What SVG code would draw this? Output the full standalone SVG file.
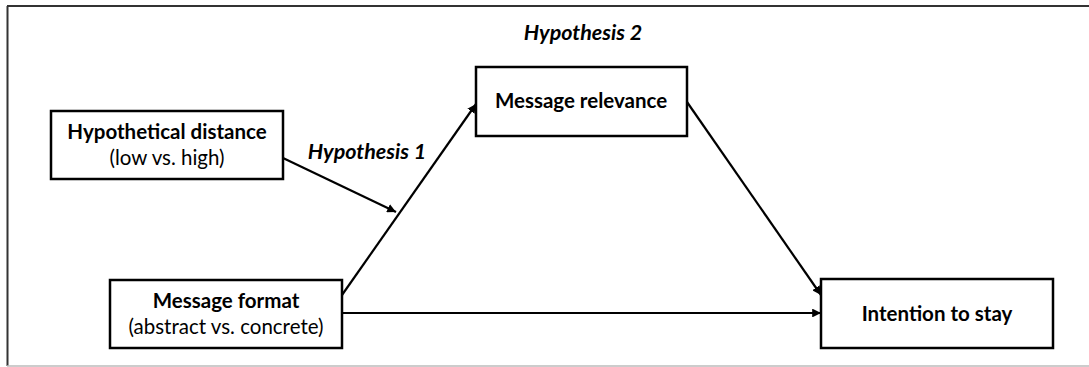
<svg xmlns="http://www.w3.org/2000/svg" width="1089" height="367" viewBox="0 0 1089 367">
<style>
.box{fill:#fff;stroke:#000;stroke-width:2.5}
.t{font-family:Lato,"Open Sans","Liberation Sans",sans-serif;font-size:20.5px;fill:#000;text-anchor:middle}
.b{font-weight:bold}
.i{font-weight:bold;font-style:italic;font-size:21.5px}
.c{stroke:#000;stroke-width:2.2;fill:none;marker-end:url(#ah)}
</style>
<defs>
<marker id="ah" viewBox="0 0 10 10" refX="10" refY="5" markerWidth="4" markerHeight="4" orient="auto" markerUnits="strokeWidth">
<path d="M0,0 L10,5 L0,10 z" fill="#000"/>
</marker>
</defs>
<rect x="0" y="0" width="1089" height="367" fill="#fff"/>
<g id="frame">
<line x1="7" y1="6" x2="1089" y2="6" stroke="#333" stroke-width="2"/>
<line x1="7.5" y1="6" x2="7.5" y2="366" stroke="#333" stroke-width="2"/>
<line x1="7" y1="366" x2="1089" y2="366" stroke="#bbb" stroke-width="1.5"/>
</g>
<g id="connectors">
<line class="c" x1="283" y1="158" x2="396" y2="212"/>
<line class="c" x1="342" y1="295" x2="476" y2="104"/>
<line class="c" x1="687" y1="102" x2="821" y2="295"/>
<line class="c" x1="342" y1="313" x2="821" y2="313"/>
</g>
<g id="label-h1"><text class="t i" x="367" y="159">Hypothesis 1</text></g>
<g id="label-h2"><text class="t i" x="583" y="40">Hypothesis 2</text></g>
<g id="node-distance">
<rect class="box" x="51" y="111" width="232" height="68"/>
<text class="t b" x="167" y="139">Hypothetical distance</text>
<text class="t" x="167" y="165">(low vs. high)</text>
</g>
<g id="node-format">
<rect class="box" x="110" y="280" width="232" height="68"/>
<text class="t b" x="226" y="308">Message format</text>
<text class="t" x="226" y="334">(abstract vs. concrete)</text>
</g>
<g id="node-relevance">
<rect class="box" x="476" y="67" width="211" height="69"/>
<text class="t b" x="581" y="108">Message relevance</text>
</g>
<g id="node-intention">
<rect class="box" x="821" y="279" width="232" height="69"/>
<text class="t b" x="937" y="321">Intention to stay</text>
</g>
</svg>
